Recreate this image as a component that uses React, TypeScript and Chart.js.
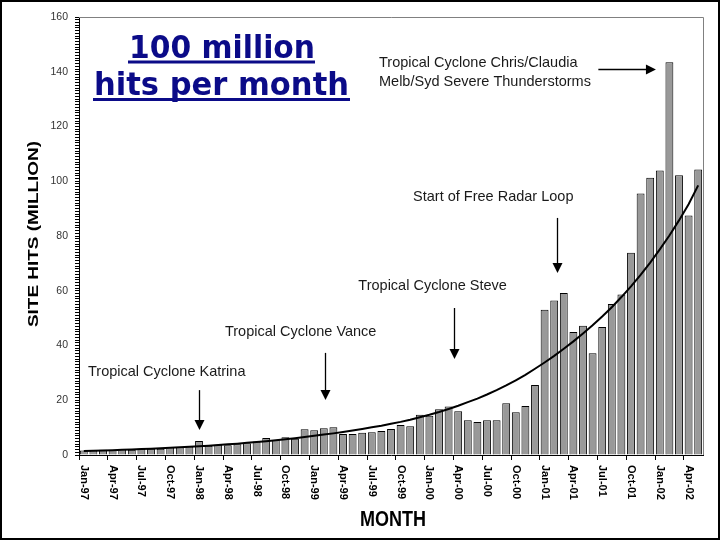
import React, { useEffect, useRef } from "react";
import { Chart, registerables } from "chart.js";

Chart.register(...registerables);

const MONTHS = [
  "Jan-97", "Feb-97", "Mar-97", "Apr-97", "May-97", "Jun-97", "Jul-97", "Aug-97", "Sep-97", "Oct-97", "Nov-97", "Dec-97",
  "Jan-98", "Feb-98", "Mar-98", "Apr-98", "May-98", "Jun-98", "Jul-98", "Aug-98", "Sep-98", "Oct-98", "Nov-98", "Dec-98",
  "Jan-99", "Feb-99", "Mar-99", "Apr-99", "May-99", "Jun-99", "Jul-99", "Aug-99", "Sep-99", "Oct-99", "Nov-99", "Dec-99",
  "Jan-00", "Feb-00", "Mar-00", "Apr-00", "May-00", "Jun-00", "Jul-00", "Aug-00", "Sep-00", "Oct-00", "Nov-00", "Dec-00",
  "Jan-01", "Feb-01", "Mar-01", "Apr-01", "May-01", "Jun-01", "Jul-01", "Aug-01", "Sep-01", "Oct-01", "Nov-01", "Dec-01",
  "Jan-02", "Feb-02", "Mar-02", "Apr-02", "May-02",
];

const HITS = [
  1.6, 1.6, 1.9, 1.8, 2.1, 1.9, 2.3, 2.3, 2.3, 2.8, 2.8, 3.1,
  5.1, 3.4, 3.7, 3.6, 3.9, 4.3, 4.9, 6.2, 5.5, 6.5, 5.9, 9.4,
  9.0, 9.8, 10.1, 7.7, 7.7, 8.1, 8.3, 8.8, 9.5, 11.0, 10.5, 14.7,
  14.3, 16.7, 17.7, 16.0, 12.7, 12.1, 12.7, 12.7, 18.9, 15.6, 17.9, 25.6,
  53.1, 56.4, 59.2, 44.9, 47.2, 37.2, 46.8, 55.2, 58.6, 73.9, 95.5, 101.3,
  103.9, 143.5, 102.2, 87.5, 104.3,
];

const TREND = [
  1.45, 1.55, 1.65, 1.77, 1.89, 2.01, 2.15, 2.3, 2.45, 2.62, 2.8, 2.99,
  3.19, 3.41, 3.64, 3.89, 4.15, 4.44, 4.74, 5.06, 5.4, 5.77, 6.16, 6.58,
  7.0, 7.45, 7.9, 8.4, 8.95, 9.5, 10.1, 10.7, 11.4, 12.1, 12.9, 13.8,
  14.7, 15.7, 16.8, 18.0, 19.3, 20.6, 22.1, 23.7, 25.4, 27.3, 29.3, 31.5,
  33.8, 36.2, 38.8, 41.5, 44.4, 47.4, 50.6, 54.0, 57.7, 61.6, 65.8, 70.3,
  75.1, 80.2, 85.7, 91.6, 98.5,
];

const Y_MIN = 0;
const Y_MAX = 160;
const Y_LABEL_STEP = 20;
const Y_MINOR_STEP = 1;

const TITLE_LINES = ["100 million", "hits per month"];
const Y_TITLE = "SITE HITS (MILLION)";
const X_TITLE = "MONTH";

// annotation anchors in data coordinates (category index, value)
const NOTES = [
  { text: ["Tropical Cyclone Katrina"], at: [0.44, 30.3], arrow: [12, 23.7, 9.1] },
  { text: ["Tropical Cyclone Vance"], at: [14.7, 44.9], arrow: [25.1, 37.3, 20.1] },
  { text: ["Tropical Cyclone Steve"], at: [28.6, 61.7], arrow: [38.55, 53.7, 35.1] },
  { text: ["Start of Free Radar Loop"], at: [34.3, 94.2], arrow: [49.3, 86.6, 66.5] },
  {
    text: ["Tropical Cyclone Chris/Claudia", "Melb/Syd Severe Thunderstorms"],
    at: [30.75, 143.2],
    hArrow: [53.6, 59.6, 141],
  },
];

const SANS = '"Liberation Sans", Arial, sans-serif';

function fitText(ctx: CanvasRenderingContext2D, text: string, cx: number, baseline: number, width: number, font: string) {
  ctx.save();
  ctx.font = font;
  const w = ctx.measureText(text).width;
  ctx.translate(cx, baseline);
  ctx.scale(width / w, 1);
  ctx.textAlign = "center";
  ctx.textBaseline = "alphabetic";
  ctx.fillText(text, 0, 0);
  ctx.restore();
}

const overlay = {
  id: "overlay",
  beforeDraw(chart: any) {
    const ctx = chart.ctx;
    ctx.save();
    ctx.fillStyle = "#ffffff";
    ctx.fillRect(0, 0, chart.width, chart.height);
    ctx.restore();
  },
  afterDraw(chart: any) {
    const ctx: CanvasRenderingContext2D = chart.ctx;
    const ca = chart.chartArea;
    const xs = chart.scales.x;
    const ys = chart.scales.y;

    // plot area top / right border
    ctx.save();
    ctx.strokeStyle = "#808080";
    ctx.lineWidth = 1;
    ctx.beginPath();
    ctx.moveTo(ca.left, ca.top + 0.5);
    ctx.lineTo(ca.right + 0.5, ca.top + 0.5);
    ctx.lineTo(ca.right + 0.5, ca.bottom);
    ctx.stroke();
    ctx.restore();

    // x tick labels, rotated clockwise
    ctx.save();
    ctx.fillStyle = "#000";
    ctx.font = `bold 11px ${SANS}`;
    MONTHS.forEach((m, i) => {
      if (i % 3 !== 0) return;
      const px = xs.getPixelForValue(i);
      ctx.save();
      ctx.translate(px, ca.bottom + 10);
      ctx.rotate(Math.PI / 2);
      ctx.textAlign = "left";
      ctx.textBaseline = "middle";
      ctx.fillText(m, 0, 0);
      ctx.restore();
    });
    ctx.restore();

    // axis titles
    ctx.save();
    ctx.fillStyle = "#000";
    ctx.translate(38, (ca.top + ca.bottom) / 2 - 2);
    ctx.rotate(-Math.PI / 2);
    fitText(ctx, Y_TITLE, 0, 0, 186, `bold 15px ${SANS}`);
    ctx.restore();

    ctx.save();
    ctx.fillStyle = "#000";
    fitText(ctx, X_TITLE, (ca.left + ca.right) / 2 + 2, 526, 66, `bold 22px "Liberation Sans Narrow", ${SANS}`);
    ctx.restore();

    // big title
    ctx.save();
    ctx.fillStyle = "#0b0b88";
    const tf = 'bold 32px "DejaVu Sans", sans-serif';
    fitText(ctx, TITLE_LINES[0], 222, 57.5, 186, tf);
    fitText(ctx, TITLE_LINES[1], 221.5, 95, 255, tf);
    ctx.fillRect(128, 60.5, 187, 3);
    ctx.fillRect(93, 98, 257, 3);
    ctx.restore();

    // annotations
    ctx.save();
    ctx.fillStyle = "#1a1a1a";
    ctx.strokeStyle = "#000";
    ctx.lineWidth = 1.3;
    ctx.font = `14.5px ${SANS}`;
    ctx.textAlign = "left";
    ctx.textBaseline = "middle";
    NOTES.forEach((n: any) => {
      const tx = xs.getPixelForValue(n.at[0]);
      const ty = ys.getPixelForValue(n.at[1]);
      n.text.forEach((t: string, k: number) => ctx.fillText(t, tx, ty + k * 19));
      ctx.fillStyle = "#000";
      if (n.arrow) {
        const ax = Math.round(xs.getPixelForValue(n.arrow[0])) + 0.5;
        const y1 = ys.getPixelForValue(n.arrow[1]);
        const y2 = ys.getPixelForValue(n.arrow[2]);
        ctx.beginPath();
        ctx.moveTo(ax, y1);
        ctx.lineTo(ax, y2 - 8);
        ctx.stroke();
        ctx.beginPath();
        ctx.moveTo(ax - 5, y2 - 10);
        ctx.lineTo(ax + 5, y2 - 10);
        ctx.lineTo(ax, y2);
        ctx.closePath();
        ctx.fill();
      }
      if (n.hArrow) {
        const x1 = xs.getPixelForValue(n.hArrow[0]);
        const x2 = xs.getPixelForValue(n.hArrow[1]);
        const ay = Math.round(ys.getPixelForValue(n.hArrow[2])) + 0.5;
        ctx.beginPath();
        ctx.moveTo(x1, ay);
        ctx.lineTo(x2 - 8, ay);
        ctx.stroke();
        ctx.beginPath();
        ctx.moveTo(x2 - 10, ay - 5);
        ctx.lineTo(x2 - 10, ay + 5);
        ctx.lineTo(x2, ay);
        ctx.closePath();
        ctx.fill();
      }
      ctx.fillStyle = "#1a1a1a";
    });
    ctx.restore();

    // outer frame
    ctx.save();
    ctx.strokeStyle = "#000";
    ctx.lineWidth = 2;
    ctx.strokeRect(1, 1, chart.width - 2, chart.height - 2);
    ctx.restore();
  },
};

export default function App() {
  const ref = useRef<HTMLCanvasElement>(null);

  useEffect(() => {
    if (!ref.current) return;
    const chart = new Chart(ref.current, {
      type: "bar",
      data: {
        labels: MONTHS,
        datasets: [
          {
            type: "line",
            label: "Trend",
            data: TREND,
            borderColor: "#000",
            borderWidth: 2,
            pointRadius: 0,
            tension: 0,
            fill: false,
            order: 0,
          } as any,
          {
            type: "bar",
            label: "Site hits",
            data: HITS,
            backgroundColor: "#999999",
            borderColor: "#000",
            borderWidth: 1,
            barPercentage: 0.82,
            categoryPercentage: 1,
            order: 1,
          } as any,
        ],
      },
      options: {
        responsive: false,
        maintainAspectRatio: false,
        animation: false,
        layout: { padding: { top: 17, right: 17, left: 0, bottom: 0 } },
        plugins: {
          legend: { display: false },
          tooltip: { enabled: false },
          title: { display: false },
        },
        scales: {
          x: {
            type: "category",
            offset: true,
            grid: {
              offset: true,
              drawOnChartArea: false,
              drawTicks: true,
              tickLength: 5,
              color: (c: any) => (c.index % 3 === 0 ? "#000" : "rgba(0,0,0,0)"),
              tickColor: (c: any) => (c.index % 3 === 0 ? "#000" : "rgba(0,0,0,0)"),
            },
            border: { display: true, color: "#000", width: 1 },
            ticks: { display: false, autoSkip: false },
            afterFit: (s: any) => {
              s.height = 85;
            },
          },
          y: {
            type: "linear",
            min: Y_MIN,
            max: Y_MAX,
            afterBuildTicks: (s: any) => {
              const t = [];
              for (let v = Y_MIN; v <= Y_MAX; v += Y_MINOR_STEP) t.push({ value: v });
              s.ticks = t;
            },
            ticks: {
              autoSkip: false,
              padding: 7,
              color: "#333",
              font: { size: 10.5, family: SANS },
              callback: (v: any) => (Number(v) % Y_LABEL_STEP === 0 ? String(v) : ""),
            },
            grid: { drawOnChartArea: false, drawTicks: true, tickLength: 4, tickColor: "#000" },
            border: { display: true, color: "#000", width: 1 },
            afterFit: (s: any) => {
              s.width = 79;
            },
          },
        },
      } as any,
      plugins: [overlay],
    });
    return () => chart.destroy();
  }, []);

  return (
    <div style={{ position: "absolute", left: 0, top: 0, width: 720, height: 540 }}>
      <canvas ref={ref} width={720} height={540} style={{ display: "block" }} />
    </div>
  );
}
